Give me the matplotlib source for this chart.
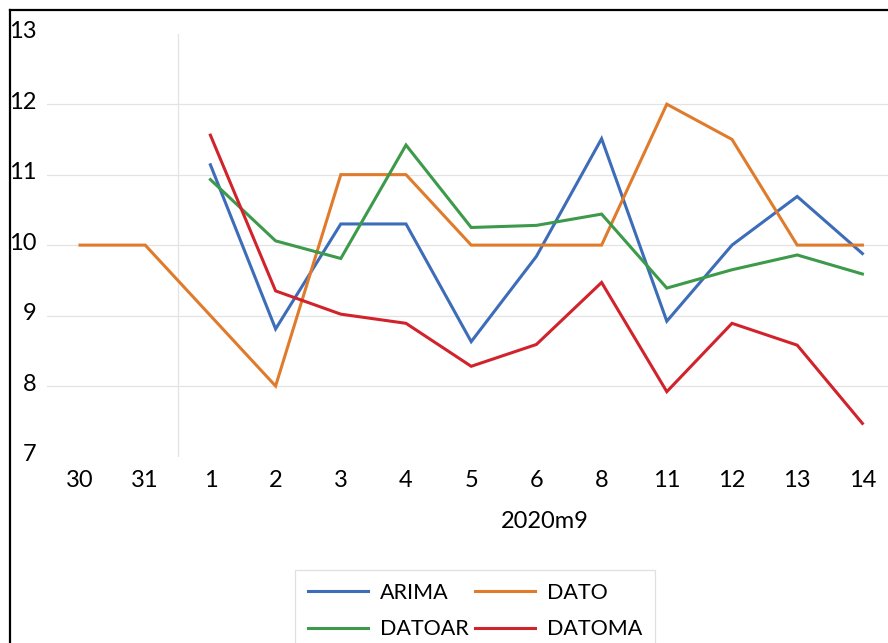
import matplotlib.pyplot as plt
import matplotlib.transforms as mtransforms
import numpy as np
from matplotlib.lines import Line2D

plt.rcParams["font.family"] = ["Lato", "DejaVu Sans"]

# Day labels; 30 and 31 belong to the previous month, 1..14 to 2020m9
days = ["30", "31", "1", "2", "3", "4", "5", "6", "8", "11", "12", "13", "14"]
month_label = "2020m9"

nan = np.nan
arima = [nan, nan, 11.14, 8.81, 10.30, 10.30, 8.63, 9.84, 11.51, 8.92, 10.00, 10.69, 9.88]
dato = [10.0, 10.0, 9.0, 8.0, 11.0, 11.0, 10.0, 10.0, 10.0, 12.0, 11.5, 10.0, 10.0]
datoar = [nan, nan, 10.93, 10.06, 9.81, 11.42, 10.25, 10.28, 10.44, 9.39, 9.65, 9.86, 9.59]
datoma = [nan, nan, 11.56, 9.35, 9.02, 8.89, 8.28, 8.59, 9.47, 7.92, 8.89, 8.58, 7.47]

series = [
    ("ARIMA", arima, "#3D6CB9"),
    ("DATO", dato, "#E07B2C"),
    ("DATOAR", datoar, "#3C9A4A"),
    ("DATOMA", datoma, "#D1232B"),
]

W, H = 888, 643
FS = 17
LFS = 15.5
fig = plt.figure(figsize=(W / 100, H / 100), dpi=100)

# plot area runs slightly past the right edge of the figure
left, right = 47.4, 895.0
top, bottom = 33.7, 456.5
ax = fig.add_axes([left / W, 1 - bottom / H, (right - left) / W, (bottom - top) / H])

x = np.arange(len(days))
lines = {}
for name, vals, color in series:
    (lines[name],) = ax.plot(x, vals, color=color, lw=2.2, label=name,
                             solid_joinstyle="miter")

ax.set_xlim(-0.5, len(days) - 0.5)
ax.set_ylim(7, 13)
ax.set_yticks(range(7, 14))
ax.set_xticks(x, days)

ax.grid(axis="y", color="#E3E3E3", lw=0.9)
gl = ax.yaxis.get_gridlines()
gl[0].set_visible(False)
gl[-1].set_visible(False)
ax.set_axisbelow(True)

# separator between the two months
ax.axvline(1.5, color="#E3E3E3", lw=0.9, zorder=0)

for s in ax.spines.values():
    s.set_visible(False)
ax.tick_params(length=0, labelsize=FS, colors="black")
ax.tick_params(axis="y", pad=8)
ax.tick_params(axis="x", pad=10)

shift = mtransforms.ScaledTranslation(0, 4 / 100, fig.dpi_scale_trans)
for lbl in ax.get_yticklabels():
    lbl.set_transform(lbl.get_transform() + shift)

fig.text(545 / W, 1 - 522 / H, month_label, ha="center", va="center", fontsize=FS)

# legend fills column-wise, so order gives rows ARIMA/DATO and DATOAR/DATOMA
order = ["ARIMA", "DATOAR", "DATO", "DATOMA"]
fpx = LFS * 100 / 72
leg = ax.legend(
    [lines[n] for n in order],
    order,
    loc="upper left",
    bbox_to_anchor=(295 / W, 1 - 570 / H),
    bbox_transform=fig.transFigure,
    ncol=2,
    fontsize=LFS,
    frameon=True,
    fancybox=False,
    edgecolor="#D9D9D9",
    borderaxespad=0,
    handlelength=60 / fpx,
    handletextpad=12 / fpx,
    columnspacing=6 / fpx,
    labelspacing=0.75,
    borderpad=0.6,
)
leg.get_frame().set_linewidth(0.9)

# outer chart border (left and top edges visible)
fig.add_artist(Line2D([10 / W, 10 / W], [0, 1 - 10 / H], color="black", lw=1.6,
                      transform=fig.transFigure))
fig.add_artist(Line2D([10 / W, 1], [1 - 10 / H, 1 - 10 / H], color="black", lw=1.6,
                      transform=fig.transFigure))

fig.savefig("out.png", dpi=100)
